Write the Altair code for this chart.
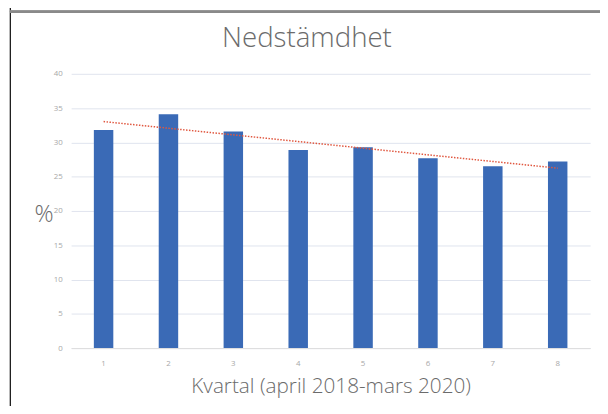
import altair as alt
import pandas as pd

kvartal = [1, 2, 3, 4, 5, 6, 7, 8]
procent = [31.8, 34.1, 31.6, 28.9, 29.3, 27.7, 26.5, 27.2]
y_ticks = [0, 5, 10, 15, 20, 25, 30, 35, 40]
chart_title = ["Nedstämdhet"]

df = pd.DataFrame({"q": kvartal, "pct": procent})
title_df = pd.DataFrame({"t": chart_title})

FONT = "Open Sans"

x_enc = alt.X(
    "q:O",
    scale=alt.Scale(paddingInner=0.7, paddingOuter=0.35),
    axis=alt.Axis(
        title="Kvartal (april 2018-mars 2020)",
        titleFont=FONT, titleFontSize=21, titleFontWeight=300, titleColor="#6b6b6b",
        titleBaseline="alphabetic", titleY=45, titleX=263, titleAlign="center",
        labelAngle=0, labelFont=FONT, labelFontSize=8, labelColor="#a8a8a8", labelPadding=12,
        ticks=False, domainColor="#dcdcdc", grid=False,
    ),
)
y_enc = alt.Y(
    "pct:Q",
    scale=alt.Scale(domain=[0, 40], nice=False),
    axis=alt.Axis(
        title="%", titleAngle=0, titleX=-28, titleY=143, titleAlign="center", titleBaseline="middle",
        titleFont=FONT, titleFontSize=24, titleFontWeight=300, titleColor="#6b6b6b",
        values=y_ticks, labelOverlap=False, labelFont=FONT, labelFontSize=8, labelColor="#a8a8a8",
        labelPadding=9, ticks=False, domain=False, gridColor="#dfe4ee", gridWidth=1,
    ),
)

bars = alt.Chart(df).mark_bar(color="#3a6ab6").encode(x=x_enc, y=y_enc)

trend = alt.Chart(df).transform_regression("q", "pct").mark_line(
    color="#e0573f", strokeDash=[1.5, 1.5], strokeWidth=1.5
).encode(x=x_enc, y=y_enc)

title_mark = alt.Chart(title_df).mark_text(
    font=FONT, fontSize=28, fontWeight=300, color="#6b6b6b", align="center", baseline="middle"
).encode(text="t:N", x=alt.value(239), y=alt.value(-35))

frame_left = alt.Chart(df).mark_rule(color="#222222", strokeWidth=1).encode(
    x=alt.value(-61.5), y=alt.value(-70), y2=alt.value(345)
)
frame_top = alt.Chart(df).mark_rule(color="#8a8a8a", strokeWidth=2).encode(
    x=alt.value(-62), x2=alt.value(540), y=alt.value(-63)
)

chart = alt.layer(bars, trend, title_mark, frame_left, frame_top).properties(
    width=526,
    height=278,
    autosize=alt.AutoSizeParams(type="none"),
    padding={"left": 64, "top": 64, "right": 10, "bottom": 56},
).configure_view(stroke=None)

chart.save("out.html", embed_options={"renderer": "svg", "actions": False})
